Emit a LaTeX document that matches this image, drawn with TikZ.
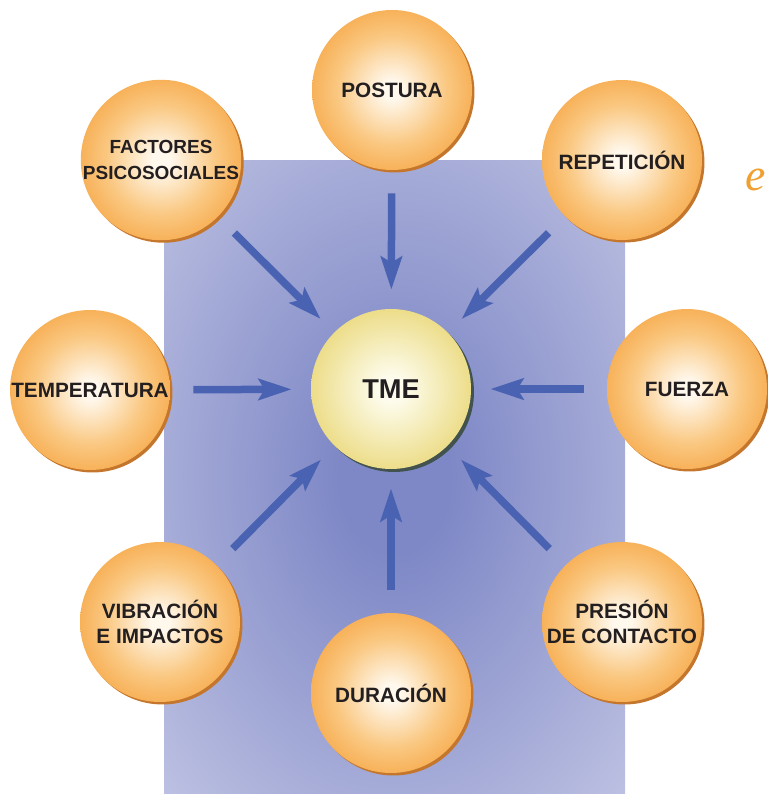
\documentclass[tikz,border=0pt]{standalone}
\usepackage{fontspec}
\setmainfont{Liberation Sans}
\newfontfamily\notefont{Liberation Serif}
\usetikzlibrary{arrows.meta,shadows}

\definecolor{ballout}{RGB}{245,158,54}
\definecolor{ballmid}{RGB}{250,200,130}
\definecolor{ballin}{RGB}{255,248,236}
\definecolor{ballshade}{RGB}{196,118,44}
\definecolor{tmeout}{RGB}{230,208,96}
\definecolor{tmein}{RGB}{253,252,236}
\definecolor{tmeshade}{RGB}{66,82,78}
\definecolor{bgin}{RGB}{126,136,198}
\definecolor{bgout}{RGB}{194,197,228}
\definecolor{arrowblue}{RGB}{74,98,178}
\definecolor{inkdark}{RGB}{35,31,32}
\definecolor{noteorange}{RGB}{240,160,48}

\pgfdeclareradialshading{ballorange}{\pgfpoint{0bp}{0bp}}%
  {color(0bp)=(ballin); color(3bp)=(ballin); color(17bp)=(ballmid); color(32bp)=(ballout); color(50bp)=(ballout)}
\pgfdeclareradialshading{ballyellow}{\pgfpoint{0bp}{0bp}}%
  {color(0bp)=(tmein); color(4bp)=(tmein); color(34bp)=(tmeout); color(50bp)=(tmeout)}
\pgfdeclareradialshading{bgglow}{\pgfpoint{0bp}{0bp}}%
  {color(0bp)=(bgin); color(6bp)=(bgin); color(38bp)=(bgout); color(80bp)=(bgout)}

\begin{document}
\begin{tikzpicture}[x=0.02cm, y=-0.02cm,
  factor/.style={circle, minimum size=3.2cm, inner sep=0pt, shading=ballorange,
    drop shadow={shadow xshift=0.05cm, shadow yshift=-0.05cm, fill=ballshade, opacity=1},
    font=\bfseries\fontsize{11.8}{14.5}\selectfont, text=inkdark, align=center},
  tme/.style={circle, minimum size=3.2cm, inner sep=0pt, shading=ballyellow,
    drop shadow={shadow xshift=0.06cm, shadow yshift=-0.06cm, fill=tmeshade, opacity=1},
    font=\bfseries\fontsize{15.5}{18}\selectfont, text=inkdark},
  push/.style={draw=arrowblue, line width=0.15cm, shorten <=0.46cm, shorten >=0.38cm,
    -{Stealth[length=0.66cm, width=0.42cm, inset=0.12cm]}}]
\useasboundingbox (0,0) rectangle (767,794);
% background panel
\shade[shading=bgglow] (164,160) rectangle (625,794);
% centre and factors
\node[tme] (tme) at (391,389) {TME};
\node[factor] (postura) at (392,90) {POSTURA};
\node[factor, font=\bfseries\fontsize{10.8}{14.5}\selectfont] (psico) at (161,160) {FACTORES\\PSICOSOCIALES};
\node[factor] (repet) at (622,160) {REPETICIÓN};
\node[factor] (temp) at (90,390) {TEMPERATURA};
\node[factor] (fuerza) at (687,389) {FUERZA};
\node[factor] (vibra) at (160,622) {VIBRACIÓN\\E IMPACTOS};
\node[factor] (presion) at (622,622) {PRESIÓN\\DE CONTACTO};
\node[factor] (durac) at (391,693) {DURACIÓN};
% arrows into TME
\draw[push] (postura) -- (tme);
\draw[push] (psico) -- (tme);
\draw[push] (repet) -- (tme);
\draw[push] (temp) -- (tme);
\draw[push] (fuerza) -- (tme);
\draw[push] (vibra) -- (tme);
\draw[push] (presion) -- (tme);
\draw[push] (durac) -- (tme);
% letter at the right edge
\node[font=\notefont\itshape\fontsize{26}{26}\selectfont, text=noteorange, inner sep=0pt] (note) at (756,180) {e};
\end{tikzpicture}
\end{document}
